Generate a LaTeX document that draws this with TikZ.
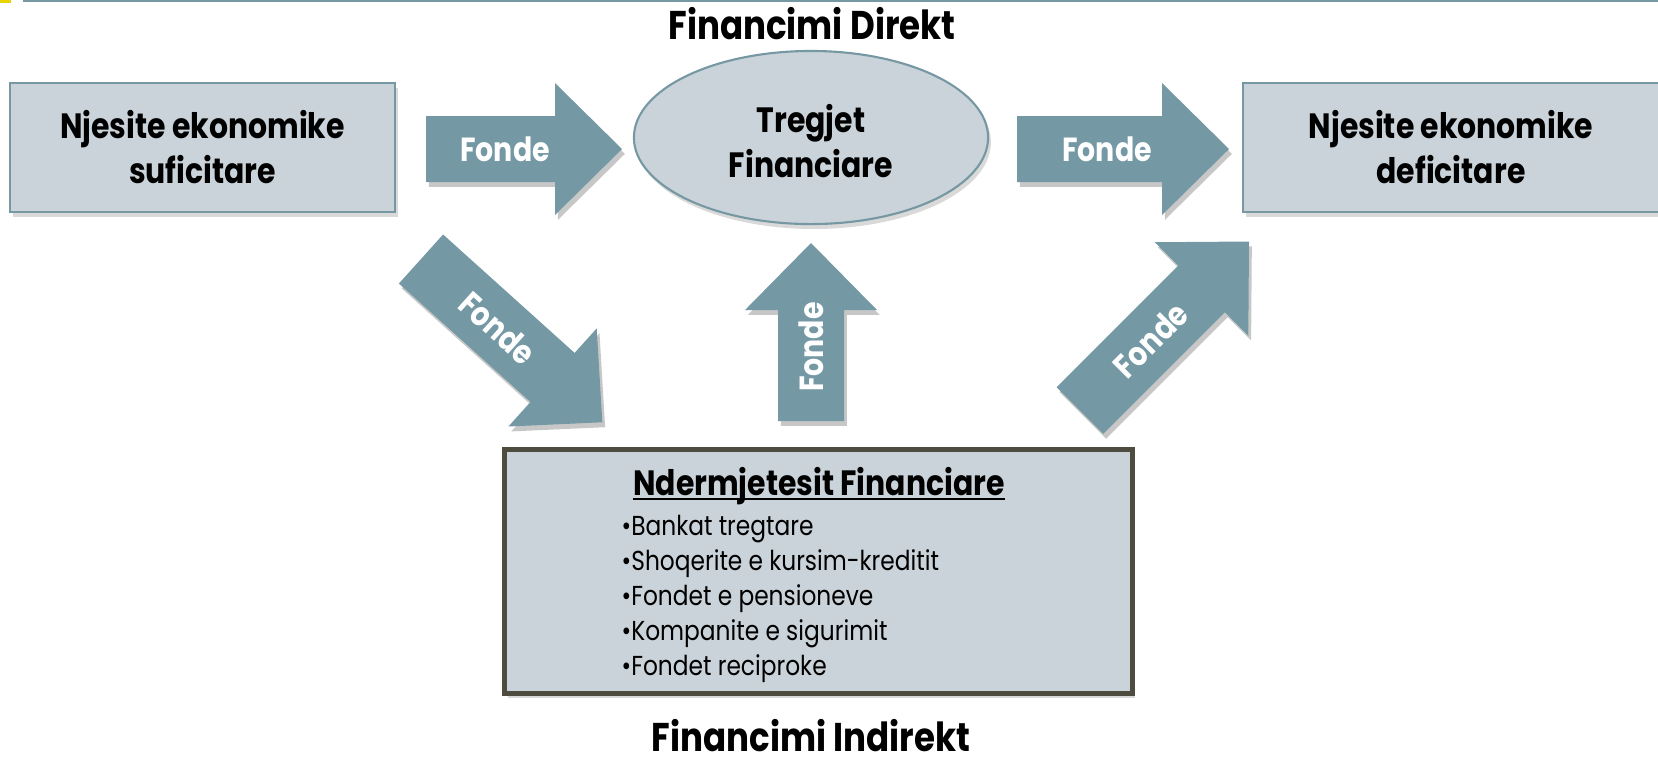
\documentclass[tikz,border=0pt]{standalone}
\usepackage{fontspec}
\setmainfont{Poppins}[FakeStretch=0.85]
\usetikzlibrary{shapes.geometric,shadows}

\definecolor{arrowteal}{RGB}{116,153,165}
\definecolor{boxfill}{RGB}{202,211,217}
\definecolor{boxline}{RGB}{118,152,163}
\definecolor{darkline}{RGB}{78,76,62}
\definecolor{markyellow}{RGB}{232,212,0}

\newcommand{\unitfont}{\fontsize{10}{12.8}\selectfont\bfseries}
\newcommand{\headfont}{\fontsize{11.4}{13}\selectfont\bfseries}
\newcommand{\bulletfont}{\fontsize{7.8}{10}\selectfont}
\newcommand{\fondefont}{\fontsize{9.5}{10}\selectfont\bfseries}

\tikzset{%
  unitbox/.style     = {shape=rectangle, draw=boxline, line width=0.6pt,%
                        fill=boxfill, align=center, font=\unitfont,%
                        drop shadow={shadow xshift=0.8pt, shadow yshift=-1.4pt, opacity=0.3}},%
  market/.style      = {unitbox, shape=ellipse},%
  intermed/.style    = {unitbox, draw=darkline, line width=1.4pt},%
  heading/.style     = {font=\headfont, anchor=base, inner sep=0pt},%
  subhead/.style     = {font=\unitfont, anchor=base, inner sep=0pt},%
  item/.style        = {font=\bulletfont, anchor=base west, inner sep=0pt},%
  fondefill/.style   = {fill=arrowteal},%
  fondeshadow/.style = {fill=black, opacity=0.22},%
  fondelabel/.style  = {font=\fondefont, text=white, inner sep=0pt}%
}

% block arrow: name, tail, angle, length, label position
\newcommand{\fonde}[5]{%
  \begin{scope}[shift={(#2)}, xshift=0.8pt, yshift=-1.4pt, rotate=#3]
    \fill[fondeshadow] (0,-33) -- ({#4-67},-33) -- ({#4-67},-66) -- (#4,0)
      -- ({#4-67},66) -- ({#4-67},33) -- (0,33) -- cycle;
  \end{scope}
  \begin{scope}[shift={(#2)}, rotate=#3]
    \fill[fondefill] (0,-33) -- ({#4-67},-33) -- ({#4-67},-66) -- (#4,0)
      -- ({#4-67},66) -- ({#4-67},33) -- (0,33) -- cycle;
    \node[fondelabel, transform shape] (#1) at (#5,0) {Fonde};
  \end{scope}}

\begin{document}
\begin{tikzpicture}[x=0.01cm, y=-0.01cm]
  \useasboundingbox (0,0) rectangle (1658,759);
  % top rule
  \fill[markyellow] (0,0) rectangle (11,3);
  \draw[boxline, line width=0.6pt] (23,1) -- (1658,1);

  \node[heading] (direct) at (812,39) {Financimi Direkt};
  \node[unitbox, minimum width=3.85cm, minimum height=1.29cm] (surplus)
    at (202.5,147.5) {Njesite ekonomike\\suficitare};
  \node[market, minimum width=3.54cm, minimum height=1.73cm] (markets)
    at (811,137.5) {};
  \node[font=\unitfont, align=center] (marketname) at (811,141) {Tregjet\\Financiare};
  \node[unitbox, minimum width=4.16cm, minimum height=1.29cm] (deficit)
    at (1451,147.5) {Njesite ekonomike\\deficitare};

  \node[intermed, minimum width=6.27cm, minimum height=2.43cm] (intermed)
    at (818.5,571.5) {};
  \node[subhead] (intertitle) at (819,495) {Ndermjetesit Financiare};
  \draw[line width=0.6pt] ([yshift=-1.2pt]intertitle.base west)
    -- ([yshift=-1.2pt]intertitle.base east);
  \node[item] (banks)     at (621,535) {\textbullet Bankat tregtare};
  \node[item] (savings)   at (621,570) {\textbullet Shoqerite e kursim-kreditit};
  \node[item] (pensions)  at (621,605) {\textbullet Fondet e pensioneve};
  \node[item] (insurance) at (621,640) {\textbullet Kompanite e sigurimit};
  \node[item] (mutual)    at (621,675) {\textbullet Fondet reciproke};

  \node[heading] (indirect) at (811,751) {Financimi Indirekt};

  % fund flows
  \fonde{fsurplus}{426,149}{0}{196}{79}
  \fonde{fdeficit}{1017,149}{0}{212}{90}
  \fonde{fdown}{421,259}{-42}{244}{103}
  \fonde{fup}{811,421}{90}{178}{74}
  \fonde{fout}{1080,410.5}{45}{239}{100}
\end{tikzpicture}
\end{document}
